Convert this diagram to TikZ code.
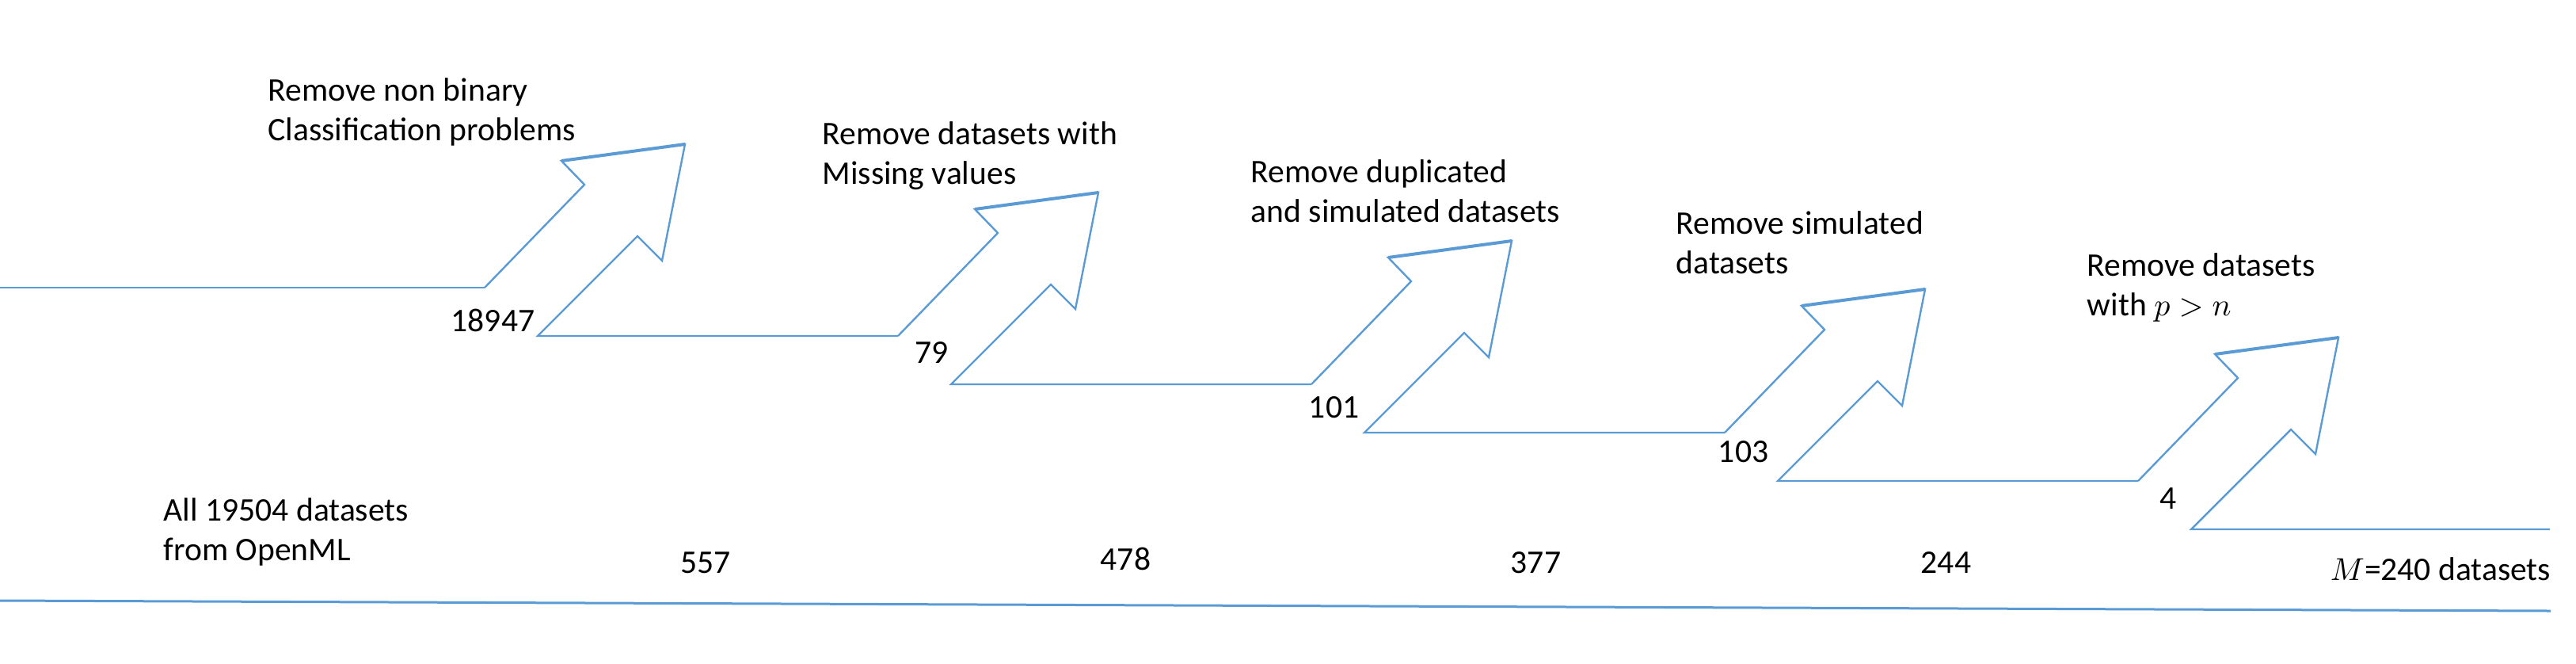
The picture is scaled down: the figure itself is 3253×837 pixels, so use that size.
\documentclass[tikz,border=0pt]{standalone}
\usepackage{fontspec}
\setmainfont{Carlito}
\definecolor{flowblue}{RGB}{91,155,213}
\begin{document}
\begin{tikzpicture}[x=0.25pt,y=-0.25pt,
  flowline/.style={draw=flowblue,line width=0.6pt,line join=miter},
  headedge/.style={draw=flowblue,line width=1pt},
  baseline line/.style={draw=flowblue,line width=0.75pt},
  lbl/.style={inner sep=0pt,font=\fontsize{10.4}{12.5}\selectfont,align=left}]
\useasboundingbox (0,0) rectangle (3253,837);
% stage coordinates
\coordinate (S0) at (0,363);
\foreach \i [count=\j] in {0,...,4}{
  \pgfmathsetmacro\xa{612+522*\i}
  \pgfmathsetmacro\ya{363+61*\i}
  \coordinate (S\j) at (\xa,\ya);
  \coordinate (A\j) at (\xa+126,\ya-130);
  \coordinate (B\j) at (\xa+97,\ya-160);
  \coordinate (T\j) at (\xa+253,\ya-181);
  \coordinate (C\j) at (\xa+224,\ya-34);
  \coordinate (D\j) at (\xa+193,\ya-65);
  \coordinate (E\j) at (\xa+67,\ya+61);
}
\coordinate (S6) at (3220,668);
\draw[flowline] (S0) -- (S1);
\foreach \j [evaluate=\j as \k using int(\j+1)] in {1,...,5}{
  \draw[flowline] (S\j) -- (A\j) -- (B\j) -- (T\j) -- (C\j) -- (D\j) -- (E\j) -- (E\j -| S\k);
  \draw[headedge] (B\j) -- (T\j);
}
% bottom line
\coordinate (G0) at (0,758);
\coordinate (G1) at (3221,771);
\draw[baseline line] (G0) -- (G1);
% step texts (anchor = baseline of last line)
\node[lbl,anchor=base west] (t1) at (338,177) {Remove non binary\\Classification problems};
\node[lbl,anchor=base west] (t2) at (1038,232) {Remove datasets with\\Missing values};
\node[lbl,anchor=base west] (t3) at (1579,280) {Remove duplicated\\and simulated datasets};
\node[lbl,anchor=base west] (t4) at (2116,345) {Remove simulated\\datasets};
\node[lbl,anchor=base west] (t5) at (2635,398) {Remove datasets\\with $p>n$};
\node[lbl,anchor=base west] (t0) at (206,707) {All 19504 datasets\\from OpenML};
% removed counts
\node[lbl,anchor=base east] (n1) at (676,418) {18947};
\node[lbl,anchor=base east] (n2) at (1198,458) {79};
\node[lbl,anchor=base east] (n3) at (1717,527) {101};
\node[lbl,anchor=base east] (n4) at (2234,583) {103};
\node[lbl,anchor=base east] (n5) at (2749,642) {4};
% remaining counts
\node[lbl,anchor=base west] (c1) at (859,723) {557};
\node[lbl,anchor=base west] (c2) at (1389,719) {478};
\node[lbl,anchor=base west] (c3) at (1907,723) {377};
\node[lbl,anchor=base west] (c4) at (2425,723) {244};
\node[lbl,anchor=base west] (c5) at (2942,732) {$M$=240 datasets};
\end{tikzpicture}
\end{document}
